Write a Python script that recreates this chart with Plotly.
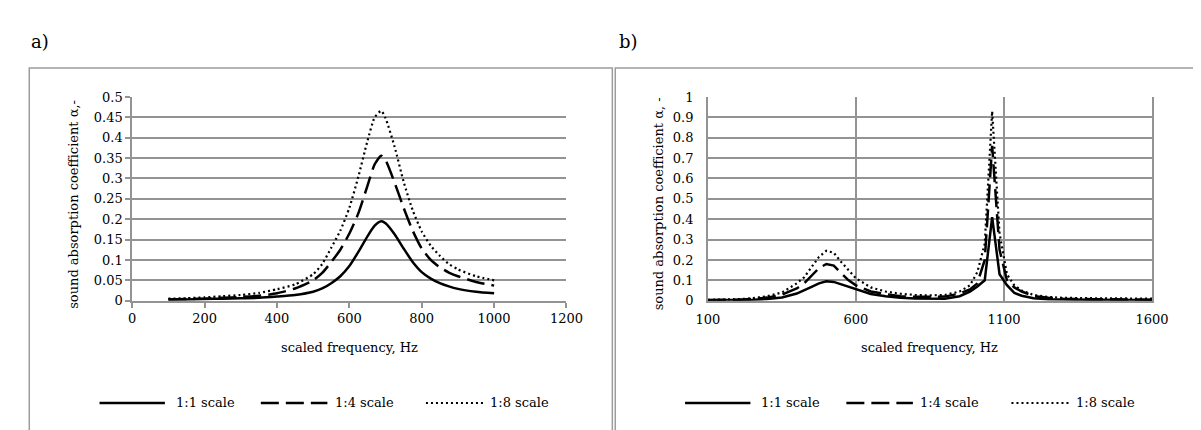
import plotly.graph_objects as go

# ---------------- data ----------------
series_names = ["1:1 scale", "1:4 scale", "1:8 scale"]

freq_a = [100, 150, 200, 250, 300, 350, 400, 450, 500, 525, 550, 575, 600, 625, 650,
          670, 688, 700, 725, 750, 775, 800, 825, 850, 875, 900, 950, 1000]
alpha_a_11 = [0.003, 0.003, 0.004, 0.005, 0.006, 0.007, 0.010, 0.014, 0.022, 0.030, 0.043, 0.060,
              0.085, 0.120, 0.158, 0.184, 0.195, 0.190, 0.163, 0.128, 0.095, 0.070, 0.054, 0.043,
              0.035, 0.029, 0.022, 0.018]
alpha_a_14 = [0.003, 0.004, 0.005, 0.007, 0.009, 0.012, 0.018, 0.030, 0.050, 0.068, 0.095, 0.125,
              0.165, 0.215, 0.282, 0.335, 0.356, 0.345, 0.290, 0.228, 0.172, 0.128, 0.100, 0.082,
              0.069, 0.060, 0.046, 0.037]
alpha_a_18 = [0.005, 0.006, 0.008, 0.011, 0.014, 0.019, 0.028, 0.040, 0.065, 0.090, 0.130, 0.172,
              0.228, 0.305, 0.392, 0.450, 0.466, 0.448, 0.378, 0.292, 0.222, 0.170, 0.135, 0.110,
              0.090, 0.077, 0.060, 0.050]

freq_b = [100, 150, 200, 250, 300, 350, 400, 425, 450, 475, 500, 525, 550, 575, 600, 650, 700,
          750, 800, 850, 900, 950, 985, 1010, 1035, 1060, 1085, 1110, 1135, 1160, 1200, 1250,
          1300, 1400, 1500, 1600]
alpha_b_11 = [0.002, 0.002, 0.003, 0.005, 0.008, 0.016, 0.035, 0.050, 0.068, 0.085, 0.095, 0.092,
              0.080, 0.066, 0.055, 0.033, 0.022, 0.014, 0.011, 0.009, 0.010, 0.022, 0.044, 0.070,
              0.100, 0.410, 0.130, 0.076, 0.038, 0.024, 0.012, 0.007, 0.005, 0.004, 0.003, 0.003]
alpha_b_14 = [0.003, 0.003, 0.005, 0.008, 0.015, 0.030, 0.060, 0.085, 0.125, 0.160, 0.180, 0.172,
              0.135, 0.100, 0.075, 0.045, 0.032, 0.022, 0.019, 0.018, 0.020, 0.035, 0.055, 0.085,
              0.200, 0.760, 0.250, 0.100, 0.065, 0.045, 0.023, 0.014, 0.010, 0.007, 0.006, 0.005]
alpha_b_18 = [0.004, 0.005, 0.007, 0.012, 0.022, 0.040, 0.085, 0.115, 0.165, 0.215, 0.245, 0.235,
              0.190, 0.150, 0.110, 0.065, 0.045, 0.034, 0.028, 0.026, 0.028, 0.045, 0.075, 0.140,
              0.280, 0.930, 0.330, 0.130, 0.075, 0.050, 0.028, 0.018, 0.014, 0.012, 0.010, 0.010]

xticks_a = [0, 200, 400, 600, 800, 1000, 1200]
xticks_b = [100, 600, 1100, 1600]

# ---------------- style ----------------
W, H = 1201, 430
FONT = "DejaVu Serif"
FS = 13
GRID = "#939393"
BOX = "#9c9c9c"
styles = [dict(dash="solid", width=2.5),
          dict(dash="18px,7px", width=2.5),
          dict(dash="2px,3px", width=2.2)]


def px(x):
    return x / W


def py(y):
    return 1 - y / H


fig = go.Figure()
for name, ys, st in zip(series_names, [alpha_a_11, alpha_a_14, alpha_a_18], styles):
    fig.add_trace(go.Scatter(x=freq_a, y=ys, mode="lines", name=name, showlegend=False,
                             line=dict(color="black", shape="spline", smoothing=0.6, **st),
                             xaxis="x", yaxis="y"))
for name, ys, st in zip(series_names, [alpha_b_11, alpha_b_14, alpha_b_18], styles):
    fig.add_trace(go.Scatter(x=freq_b, y=ys, mode="lines", name=name, showlegend=False,
                             line=dict(color="black", **st),
                             xaxis="x2", yaxis="y2"))

ydom = [py(296), py(85)]
tickfont = dict(family=FONT, size=FS, color="black")

fig.update_layout(
    width=W, height=H,
    margin=dict(l=0, r=0, t=0, b=0),
    paper_bgcolor="white", plot_bgcolor="white",
    font=dict(family=FONT, size=FS, color="black"),
    showlegend=False,
    xaxis=dict(domain=[px(115), px(560)], range=[0, 1200], tickvals=xticks_a,
               showgrid=False, zeroline=False, showline=True, linecolor=GRID, linewidth=1.8,
               ticks="outside", ticklen=5, tickcolor=GRID, tickwidth=1.5,
               tickfont=tickfont, anchor="y"),
    yaxis=dict(domain=ydom, range=[0, 0.5], dtick=0.05, tick0=0,
               showgrid=True, gridcolor=GRID, gridwidth=1.8, zeroline=False,
               showline=True, linecolor=GRID, linewidth=1.8,
               ticks="outside", ticklen=5, tickcolor=GRID, tickwidth=1.5,
               tickfont=tickfont, anchor="x"),
    xaxis2=dict(domain=[px(705), px(1160)], range=[100, 1600], tickvals=xticks_b,
                showgrid=True, gridcolor=GRID, gridwidth=1.8, zeroline=False,
                showline=True, linecolor=GRID, linewidth=1.8, ticks="",
                ticklabelstandoff=6, tickfont=tickfont, anchor="y2"),
    yaxis2=dict(domain=ydom, range=[0, 1], dtick=0.1, tick0=0,
                showgrid=True, gridcolor=GRID, gridwidth=1.8, zeroline=False,
                showline=True, mirror=True, linecolor=GRID, linewidth=1.8, ticks="",
                ticklabelstandoff=10, tickfont=tickfont, anchor="x2"),
)

shapes = []
annotations = []

# panel frames
shapes.append(dict(type="rect", xref="paper", yref="paper", x0=px(9.5), x1=px(607),
                   y0=py(470), y1=py(55), line=dict(color=BOX, width=1.5), layer="below"))
shapes.append(dict(type="rect", xref="paper", yref="paper", x0=px(610), x1=px(1240),
                   y0=py(470), y1=py(55), line=dict(color=BOX, width=1.5), layer="below"))

# panel letters
for lab, x in [("a)", 9), ("b)", 612)]:
    annotations.append(dict(text=lab, xref="paper", yref="paper", x=px(x), y=py(27),
                            xanchor="left", yanchor="middle", showarrow=False,
                            font=dict(family=FONT, size=18, color="black")))

# axis titles
for off, ytxt in [(0, "sound absorption coefficient α,-"), (600, "sound absorption coefficient α, -")]:
    annotations.append(dict(text=ytxt, xref="paper", yref="paper", x=px(off + 54), y=py(196),
                            xanchor="center", yanchor="middle", textangle=-90, showarrow=False,
                            font=dict(family=FONT, size=FS, color="black")))
annotations.append(dict(text="scaled frequency, Hz", xref="paper", yref="paper", x=px(337.5), y=py(344),
                        xanchor="center", yanchor="middle", showarrow=False,
                        font=dict(family=FONT, size=FS, color="black")))
annotations.append(dict(text="scaled frequency, Hz", xref="paper", yref="paper", x=px(932.5), y=py(344),
                        xanchor="center", yanchor="middle", showarrow=False,
                        font=dict(family=FONT, size=FS, color="black")))

# legends (line sample + label) for both panels
leg_samples = [(81.5, 148.5, 157.7), (246.8, 315, 320.7), (416, 474.6, 480)]
for off in (0, 600):
    for (x0, x1, xt), name, st in zip(leg_samples, series_names, styles):
        shapes.append(dict(type="line", xref="paper", yref="paper", x0=px(off + x0), x1=px(off + x1),
                           y0=py(402), y1=py(402), line=dict(color="black", **st)))
        annotations.append(dict(text=name, xref="paper", yref="paper", x=px(off + xt), y=py(402),
                                xanchor="left", yanchor="middle", showarrow=False,
                                font=dict(family=FONT, size=FS, color="black")))

fig.update_layout(shapes=shapes, annotations=annotations)
fig.write_html("out.html")
